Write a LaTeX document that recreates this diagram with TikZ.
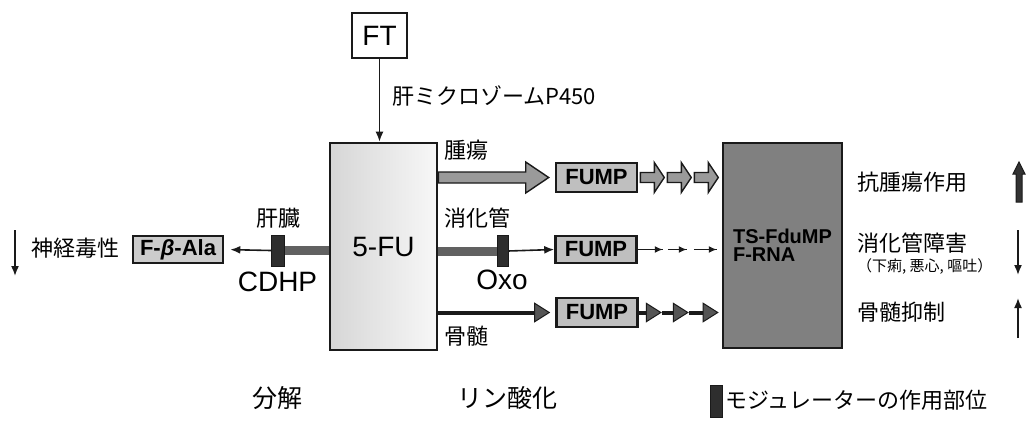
\documentclass[tikz,border=0pt]{standalone}
\usepackage{fontspec}
\setmainfont{Liberation Sans}
\newfontfamily\jp{Noto Sans CJK JP}
\usepackage{tikz}
\usetikzlibrary{arrows.meta,positioning,calc,decorations.markings}
\definecolor{fuink}{HTML}{1A1A1A}
\definecolor{fugray}{HTML}{9A9A9A}
\definecolor{fudark}{HTML}{555555}

% flat block arrow: style, start, tip, shaft half, head half, head length
\newcommand{\blockarrow}[6]{%
  \draw[#1] ($(#2)+(0,-#4)$) -- ($(#3)+(-#6,-#4)$) -- ($(#3)+(-#6,-#5)$) -- (#3)
    -- ($(#3)+(-#6,#5)$) -- ($(#3)+(-#6,#4)$) -- ($(#2)+(0,#4)$) -- cycle;}

\begin{document}
\begin{tikzpicture}[x=1pt, y=-1pt,
  box/.style={draw=fuink, line width=2.6pt, minimum width=81pt, minimum height=29pt, inner sep=0pt},
  fumpbox/.style={box, fill=black!25, font=\bfseries\fontsize{22}{24}\selectfont},
  modbox/.style={draw=fuink, fill=black!82, minimum width=11pt, minimum height=31pt, inner sep=0pt},
  jplabel/.style={font=\jp\fontsize{22}{26}\selectfont, inner sep=0pt},
  latin/.style={font=\fontsize{28}{30}\selectfont, inner sep=0pt},
  flowarrow/.style={-{Latex[length=10pt,width=8pt]}, line width=1.6pt, draw=fuink},
  grayband/.style={line width=9pt, draw=black!62},
  blockfill/.style={draw=fuink, line width=1.4pt, fill=fugray, line join=miter},
  chainarrow/.style={-{Triangle[length=16pt,width=20pt,line width=1pt,fill=fudark]}, line width=4pt, draw=fuink}
]
\useasboundingbox (0,0) rectangle (1034,424);

% boxes
\node[box, line width=2pt, minimum width=55pt, minimum height=45pt, latin] (ft) at (379.5,35.5) {FT};
\node[box, minimum width=107pt, minimum height=207pt, left color=black!16, right color=black!3, latin] (fu) at (383.5,246.5) {5-FU};
\node[box, minimum width=119pt, minimum height=205pt, fill=black!50, align=left,
  font=\bfseries\fontsize{20}{18}\selectfont] (ts) at (782.5,245.5) {TS-FduMP\\F-RNA};
\node[fumpbox] (fump1) at (596.5,177.5) {FUMP};
\node[fumpbox, minimum height=27pt] (fump2) at (596,249.5) {FUMP};
\node[fumpbox] (fump3) at (597,312.5) {FUMP};
\node[box, fill=black!20, minimum width=90pt, minimum height=27pt,
  font=\bfseries\fontsize{22}{24}\selectfont] (fbala) at (178,249.5) {F-{\itshape β}-Ala};

% modulators
\draw[grayband] (277.5,250.5) coordinate (bandl) -- (bandl -| fu.west);
\draw[grayband] (fu.east |- 0,251) coordinate (bandm) -- (bandm -| 502.5,0);
\node[modbox, minimum width=13pt] (modl) at (277.5,250.5) {};
\node[modbox] (modm) at (502.5,251) {};

% FT
\draw[flowarrow] (ft.south) -- (ft.south |- fu.north);
\node[jplabel, anchor=west] (microsome) at (392,96) {肝ミクロゾームP450};

% liver side
\draw[flowarrow, shorten >=6pt] (modl.west) -- (fbala.east);
\node[jplabel] (liver) at (278,218) {肝臓};
\node[latin] (cdhp) at (277.5,282) {CDHP};
\node[jplabel, anchor=west] (neuro) at (31,248) {神経毒性};
\coordinate (nd1) at (15,230);
\coordinate (nd2) at (15,276);
\draw[flowarrow] (nd1) -- (nd2);

% tumour row
\coordinate (t0) at (fu.east |- fump1.west);
\coordinate (t1) at ($(fump1.west)+(-6,0)$);
\blockarrow{blockfill}{t0}{t1}{5.5}{15.5}{23}
\foreach \i in {0,1,2}{
  \coordinate (sa) at ($(fump1.east)+(2+27*\i,0)$);
  \coordinate (sb) at ($(sa)+(24,0)$);
  \blockarrow{blockfill}{sa}{sb}{5}{15}{10}
}
\node[jplabel, anchor=west] (tumour) at (444,150) {腫瘍};

% gut row
\draw[flowarrow] (modm.east) -- (fump2.west);
\draw[line width=1.6pt, draw=fuink, dash pattern=on 25pt off 5pt on 19pt off 7pt on 23pt off 20pt,
  decoration={markings,
    mark=at position 25pt with {\arrow{Latex[length=8pt,width=7pt]}},
    mark=at position 49pt with {\arrow{Latex[length=8pt,width=7pt]}},
    mark=at position 79pt with {\arrow{Latex[length=8pt,width=7pt]}}},
  postaction=decorate] (fump2.east) -- (fump2.east -| ts.west);
\node[jplabel, anchor=west] (gitract) at (444,218) {消化管};
\node[latin] (oxo) at (502,280) {Oxo};

% marrow row
\draw[chainarrow, shorten >=5pt] (fu.east |- fump3.west) -- (fump3.west);
\coordinate (c1) at ($(fump3.east)+(23,0)$);
\coordinate (c2) at ($(fump3.east)+(50,0)$);
\draw[chainarrow] (fump3.east) -- (c1);
\draw[chainarrow] (c1) -- (c2);
\draw[chainarrow, shorten >=3pt] (c2) -- (c2 -| ts.west);
\node[jplabel, anchor=west] (marrow) at (444,336) {骨髄};

% effects
\node[jplabel, anchor=west] (antitumour) at (857,182) {抗腫瘍作用};
\node[jplabel, anchor=west] (gitox) at (857,243) {消化管障害};
\node[jplabel, anchor=west, font=\jp\fontsize{15}{17}\selectfont] (gisymp) at (857,266) {（下痢, 悪心, 嘔吐）};
\node[jplabel, anchor=west] (myelo) at (857,312) {骨髄抑制};
\draw[fill=black!80, draw=fuink, line width=1pt] (1016,202) -- (1016,174) -- (1013,174) -- (1019,162)
  -- (1025,174) -- (1022,174) -- (1022,202) -- cycle;
\coordinate (gu1) at (1018,230);
\coordinate (gu2) at (1018,275);
\draw[flowarrow] (gu1) -- (gu2);
\coordinate (mu1) at (1018,338);
\coordinate (mu2) at (1018,298);
\draw[flowarrow] (mu1) -- (mu2);

% bottom captions
\node[jplabel, font=\jp\fontsize{25}{28}\selectfont] (breakdown) at (277,398) {分解};
\node[jplabel, font=\jp\fontsize{25}{28}\selectfont] (phospho) at (507,398) {リン酸化};
\node[modbox, minimum width=12pt, minimum height=32pt] (legendmod) at (716,401) {};
\node[jplabel, anchor=west] (legendtxt) at (725,400) {モジュレーターの作用部位};
\end{tikzpicture}
\end{document}
